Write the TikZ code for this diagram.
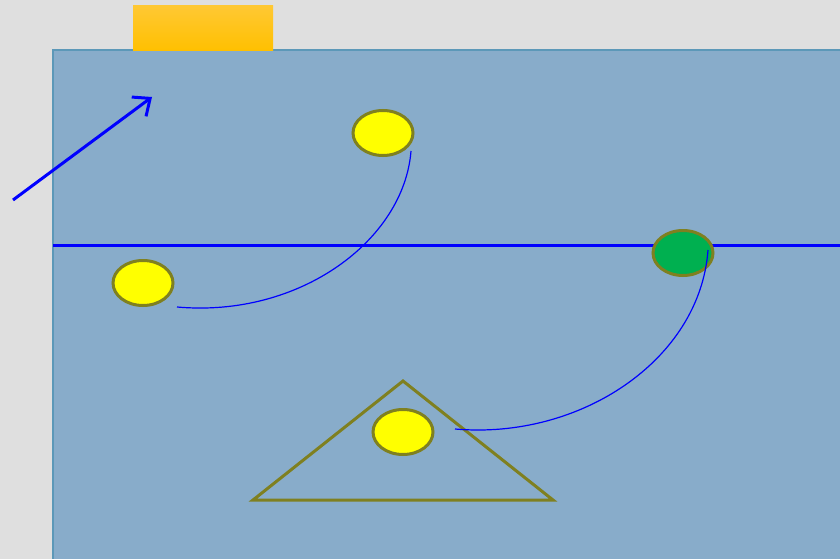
\documentclass[tikz,border=0pt]{standalone}
\usetikzlibrary{arrows.meta}
\definecolor{bgray}{HTML}{DFDFDF}
\definecolor{panel}{HTML}{88ACCA}
\definecolor{panelborder}{HTML}{5C98B8}
\definecolor{olive}{HTML}{7F8020}
\definecolor{gold1}{HTML}{FFC833}
\definecolor{gold2}{HTML}{FFC000}
\definecolor{green1}{HTML}{00B050}
\definecolor{ylw}{HTML}{FFFF00}
\tikzset{
  ball/.style={ellipse, draw=olive, line width=3pt, fill=ylw, minimum width=60pt, minimum height=45pt, inner sep=0pt},
  link/.style={draw=blue, line width=1.2pt},
}
\usetikzlibrary{shapes.geometric}
\begin{document}
\begin{tikzpicture}[x=1pt,y=-1pt]
\useasboundingbox (0,0) rectangle (840,559);
\fill[bgray] (0,0) rectangle (840,559);
\draw[panelborder, fill=panel, line width=1.5pt] (53,50) rectangle (845,565);
\shade[top color=gold1, bottom color=gold2] (133,6) rectangle (273,51);
\coordinate (a0) at (13,200);
\coordinate (a1) at (152,97);
\draw[blue, line width=3pt, -{Straight Barb[length=14pt,width=24pt]}] (a0) -- (a1);
\coordinate (h0) at (53,245.5);
\coordinate (h1) at (840,245.5);
\draw[blue, line width=3pt] (h0) -- (h1);
\coordinate (t1) at (253,500);
\coordinate (t2) at (403,381);
\coordinate (t3) at (553,500);
\draw[olive, line width=3pt, line join=miter] (t1) -- (t2) -- (t3) -- cycle;
\node[ball] (b1) at (383,133) {};
\node[ball] (b2) at (143,283) {};
\node[ball] (b3) at (403,432) {};
\node[ball, fill=green1] (g) at (683,253) {};
\coordinate (c1s) at (411,151);
\coordinate (c1e) at (177,307);
\coordinate (c2s) at (708,250);
\coordinate (c2e) at (455,429);
\draw[link] (c1s) .. controls (404,240) and (300,318) .. (c1e);
\draw[link] (c2s) .. controls (700,360) and (580,440) .. (c2e);
\end{tikzpicture}
\end{document}
